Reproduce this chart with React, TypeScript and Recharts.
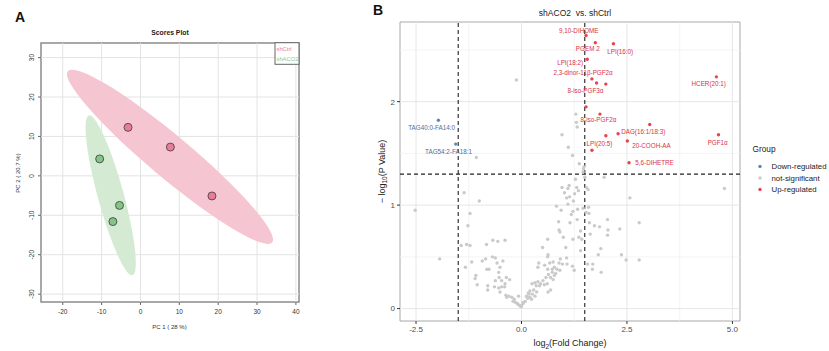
import React from 'react';
import { ScatterChart, Scatter, XAxis, YAxis, ReferenceLine, ReferenceArea } from 'recharts';

const FONT = '"Liberation Sans", Arial, Helvetica, sans-serif';

// ---------- Panel A : PCA scores ----------
const pcaXTicks = [-20, -10, 0, 10, 20, 30, 40];
const pcaYTicks = [-30, -20, -10, 0, 10, 20, 30];
const shCtrlPC1 = [-3.2, 7.7, 18.4];
const shCtrlPC2 = [12.3, 7.3, -5.1];
const shACO2PC1 = [-10.5, -5.4, -7.1];
const shACO2PC2 = [4.3, -7.5, -11.6];
// confidence ellipses: [centre, end of major semi-axis, end of minor semi-axis]
const shCtrlEllipse = [[7.6, 4.83], [33.9, -16.9], [11.07, 8.91]];
const shACO2Ellipse = [[-7.67, -4.93], [-2.06, -25.2], [-4.45, -4.06]];

// ---------- Panel B : volcano ----------
const volXTicks = [-2.5, 0, 2.5, 5];
const volXMinor = [-1.25, 1.25, 3.75];
const volYTicks = [0, 1, 2];
const volYMinor = [0.5, 1.5, 2.5];
const fcCut = 1.5;
const pCut = 1.3;

const upNames = ['9,10-DIHOME', 'PGEM 2', 'LPI(16:0)', 'LPI(18:2)', '2,3-dinor-11β-PGF2α', '8-iso-PGF3α', '', '', '8-iso-PGF2α', 'DAG(16:1/18:3)', '', '', 'LPI(20:5)', '20-COOH-AA', '5,6-DIHETRE', 'HCER(20:1)', 'PGF1α'];
const upFC = [1.53, 1.75, 2.18, 1.56, 1.67, 1.78, 2.0, 1.53, 1.86, 3.04, 2.29, 2.0, 1.67, 2.51, 2.55, 4.62, 4.67];
const upP = [2.64, 2.57, 2.56, 2.41, 2.22, 2.18, 2.17, 1.95, 1.88, 1.78, 1.69, 1.67, 1.53, 1.62, 1.41, 2.24, 1.68];

const downNames = ['TAG40:0-FA14:0', 'TAG54:2-FA18:1'];
const downFC = [-1.97, -1.56];
const downP = [1.82, 1.59];

const notSig: [number, number][] = [
  [-1.07, 1.46], [-0.12, 2.21], [1.29, 1.88], [1.30, 1.80], [1.32, 1.755], [0.96, 1.68], [1.11, 1.56], [1.21, 1.48], [1.37, 1.40], [1.48, 1.37], [1.47, 1.35], [1.46, 1.32],
  [-2.52, 0.95], [-1.36, 1.12], [-1.0, 1.04], [-1.22, 0.92], [-1.27, 0.80], [-1.43, 0.61], [-1.30, 0.62], [-1.22, 0.61], [-0.83, 0.62], [-0.68, 0.66], [-0.56, 0.65], [-0.39, 0.66],
  [-1.94, 0.48], [-1.18, 0.45], [-1.33, 0.40], [-0.93, 0.46], [-0.85, 0.48], [-0.69, 0.50], [-0.77, 0.38], [-0.82, 0.38], [-0.58, 0.44], [-0.51, 0.40], [-0.54, 0.35], [-1.08, 0.32],
  [-1.10, 0.29], [-1.05, 0.23], [-0.80, 0.22], [-0.80, 0.18], [-0.64, 0.21], [-0.62, 0.27], [-0.53, 0.30], [-0.47, 0.27], [-0.36, 0.30], [-0.28, 0.28], [-0.54, 0.20], [-0.47, 0.21],
  [-0.40, 0.21], [-0.39, 0.24], [-0.51, 0.16], [-0.37, 0.13], [-0.35, 0.11], [-0.23, 0.11], [-0.17, 0.09], [-0.07, 0.12], [-0.14, 0.06], [-0.10, 0.05], [-0.04, 0.03], [0.0, 0.02],
  [0.04, 0.05], [0.14, 0.11], [0.18, 0.14], [-0.62, 0.49], [-0.44, 0.46], [-0.2, 0.07], [-0.08, 0.04], [-0.3, 0.12],
  [1.96, 1.27], [1.50, 1.27], [1.28, 1.25], [0.96, 1.17], [1.13, 1.19], [1.10, 1.16], [1.31, 1.17], [1.54, 1.17], [1.35, 1.14], [1.58, 1.15], [1.26, 1.11], [1.02, 1.12],
  [1.07, 1.07], [1.14, 1.08], [2.57, 1.07], [1.23, 1.04], [0.83, 0.99], [1.10, 1.01], [1.33, 0.96], [1.59, 0.98], [0.94, 0.95], [1.22, 0.94], [1.53, 0.93], [1.60, 0.92],
  [1.46, 0.97], [1.18, 0.91], [1.32, 0.86], [0.88, 0.84], [1.15, 0.83], [1.61, 0.83], [1.73, 0.80], [1.85, 0.79], [2.04, 0.86], [2.05, 0.76], [2.33, 0.77], [2.79, 0.83],
  [0.89, 0.76], [0.91, 0.74], [1.40, 0.75], [1.63, 0.72], [2.04, 0.71], [0.99, 0.69], [0.62, 0.67], [1.22, 0.67], [1.36, 0.69], [1.43, 0.67], [0.50, 0.59], [1.05, 0.59],
  [1.40, 0.56], [1.88, 0.58], [0.63, 0.52], [0.62, 0.50], [1.82, 0.52], [2.37, 0.52], [2.79, 0.47], [2.48, 0.47], [0.92, 0.48], [1.07, 0.49], [0.89, 0.44], [0.97, 0.43],
  [0.41, 0.44], [0.39, 0.40], [0.55, 0.42], [0.67, 0.44], [0.75, 0.45], [1.08, 0.43], [1.21, 0.41], [1.25, 0.37], [1.57, 0.43], [1.69, 0.43], [1.68, 0.38], [1.89, 0.35],
  [0.62, 0.38], [0.73, 0.38], [0.78, 0.40], [0.84, 0.38], [0.91, 0.37], [0.73, 0.35], [0.81, 0.34], [0.64, 0.33], [0.78, 0.32], [0.69, 0.30], [0.75, 0.28], [0.58, 0.30],
  [0.51, 0.27], [0.39, 0.26], [0.32, 0.25], [0.25, 0.24], [0.45, 0.24], [0.54, 0.23], [0.61, 0.24], [0.35, 0.22], [0.43, 0.22], [0.69, 0.18], [0.63, 0.16], [0.29, 0.18],
  [0.20, 0.17], [0.36, 0.16], [0.16, 0.15], [0.26, 0.14], [0.32, 0.12], [0.20, 0.11], [0.12, 0.12], [0.24, 0.09], [0.15, 0.10], [0.09, 0.07], [0.04, 0.06], [0.0, 0.03],
  [-0.02, 0.02], [4.81, 1.16],
];

// repelled label anchors (data units) for named metabolites
const labelText = ['9,10-DIHOME', 'PGEM 2', 'LPI(16:0)', 'LPI(18:2)', '2,3-dinor-11β-PGF2α', '8-iso-PGF3α', '8-iso-PGF2α', 'DAG(16:1/18:3)', 'LPI(20:5)', '20-COOH-AA', '5,6-DIHETRE', 'HCER(20:1)', 'PGF1α', 'TAG40:0-FA14:0', 'TAG54:2-FA18:1'];
const labelFC = [1.358, 1.571, 2.341, 1.152, 1.46, 1.517, 1.825, 2.886, 1.848, 3.081, 3.154, 4.438, 4.652, -2.13, -1.73];
const labelP = [2.689, 2.51, 2.488, 2.381, 2.281, 2.106, 1.826, 1.71, 1.593, 1.574, 1.413, 2.174, 1.607, 1.755, 1.523];
const labelGroup = ['up', 'up', 'up', 'up', 'up', 'up', 'up', 'up', 'up', 'up', 'up', 'up', 'up', 'down', 'down'];

const groupNames = ['Down-regulated', 'not-significant', 'Up-regulated'];

const C = {
  pink: '#ec7a98', pinkEll: '#f6c5d2', pinkTxt: '#e8799b',
  green: '#84c585', greenEll: '#d4ead2', greenTxt: '#88c98b',
  up: '#e8444c', upTxt: '#d8333f', down: '#6584b8', downTxt: '#4f6d9e', ns: '#cacaca',
};

const ellipseLine = (fill: string) => (props: any) => {
  const pts = props.points || [];
  if (pts.length < 3) return <g />;
  const [c, a, b] = pts;
  const m = `matrix(${a.x - c.x} ${a.y - c.y} ${b.x - c.x} ${b.y - c.y} ${c.x} ${c.y})`;
  return <circle cx={0} cy={0} r={1} transform={m} fill={fill} stroke="none" />;
};

const RotTick = (props: any) => {
  const { x, y, payload } = props;
  const bx = x - 2;
  return (
    <text x={bx} y={y} transform={`rotate(-90 ${bx} ${y})`} textAnchor="middle" fontSize={6.5} fill="#333" fontFamily={FONT}>
      {payload.value}
    </text>
  );
};

function PanelA() {
  const ctrl = shCtrlPC1.map((x, i) => ({ x, y: shCtrlPC2[i] }));
  const aco2 = shACO2PC1.map((x, i) => ({ x, y: shACO2PC2[i] }));
  const ctrlEll = shCtrlEllipse.map(([x, y]) => ({ x, y }));
  const aco2Ell = shACO2Ellipse.map(([x, y]) => ({ x, y }));
  const dot = (fill: string) => (p: any) => <circle cx={p.cx} cy={p.cy} r={4} fill={fill} stroke="#4a4a4a" strokeWidth={0.9} />;
  return (
    <ScatterChart width={310} height={351} margin={{ top: 43, right: 11, bottom: 0, left: 0 }}>
      {pcaXTicks.map((t) => <ReferenceLine key={'gx' + t} x={t} stroke="#e3e3e3" strokeWidth={1} />)}
      {pcaYTicks.map((t) => <ReferenceLine key={'gy' + t} y={t} stroke="#e3e3e3" strokeWidth={1} />)}
      <XAxis type="number" dataKey="x" domain={[-25.6, 40.8]} ticks={pcaXTicks} allowDataOverflow interval={0}
        height={49} axisLine={false} tickLine={{ stroke: '#666' }} tickSize={3} tickMargin={4}
        tick={{ fontSize: 6.5, fill: '#333', fontFamily: FONT }} />
      <YAxis type="number" dataKey="y" domain={[-32, 33.7]} ticks={pcaYTicks} allowDataOverflow interval={0}
        width={41} axisLine={false} tickLine={{ stroke: '#666' }} tickSize={3} tickMargin={2}
        tick={(p: any) => <RotTick {...p} />} />
      <Scatter data={ctrlEll} line={ellipseLine(C.pinkEll)} shape={() => <g />} isAnimationActive={false} legendType="none" />
      <Scatter data={aco2Ell} line={ellipseLine(C.greenEll)} shape={() => <g />} isAnimationActive={false} legendType="none" />
      <Scatter name="shCtrl" data={ctrl} shape={dot(C.pink)} isAnimationActive={false} />
      <Scatter name="shACO2" data={aco2} shape={dot(C.green)} isAnimationActive={false} />
      <ReferenceArea x1={-25.6} x2={40.8} y1={-32} y2={33.7} fill="none" stroke="#8c8c8c" strokeWidth={1.5} ifOverflow="visible" />
    </ScatterChart>
  );
}

function PanelB() {
  const ns = notSig.map(([x, y]) => ({ x, y }));
  const up = upFC.map((x, i) => ({ x, y: upP[i], name: upNames[i] }));
  const down = downFC.map((x, i) => ({ x, y: downP[i], name: downNames[i] }));
  const labels = labelText.map((t, i) => ({ x: labelFC[i], y: labelP[i], name: t, g: labelGroup[i] }));
  const dot = (fill: string) => (p: any) => <circle cx={p.cx} cy={p.cy} r={1.7} fill={fill} />;
  const labelShape = (p: any) => (
    <text x={p.cx} y={p.cy} textAnchor="middle" dominantBaseline="central" fontSize={6.3} fontFamily={FONT}
      fill={p.payload.g === 'up' ? C.upTxt : C.downTxt}>{p.payload.name}</text>
  );
  return (
    <ScatterChart width={519} height={351} margin={{ top: 22, right: 89, bottom: 0, left: 0 }}>
      {volXMinor.map((t) => <ReferenceLine key={'mx' + t} x={t} stroke="#f1f1f1" strokeWidth={0.8} />)}
      {volYMinor.map((t) => <ReferenceLine key={'my' + t} y={t} stroke="#f1f1f1" strokeWidth={0.8} />)}
      {volXTicks.map((t) => <ReferenceLine key={'gx' + t} x={t} stroke="#e6e6e6" strokeWidth={1} />)}
      {volYTicks.map((t) => <ReferenceLine key={'gy' + t} y={t} stroke="#e6e6e6" strokeWidth={1} />)}
      <XAxis type="number" dataKey="x" domain={[-2.88, 5.18]} ticks={volXTicks} allowDataOverflow interval={0}
        height={30} axisLine={false} tickLine={{ stroke: '#333' }} tickSize={3} tickMargin={2}
        tickFormatter={(v: number) => v.toFixed(1)} tick={{ fontSize: 8, fill: '#4d4d4d', fontFamily: FONT }} />
      <YAxis type="number" dataKey="y" domain={[-0.12, 2.77]} ticks={volYTicks} allowDataOverflow interval={0}
        width={90} axisLine={false} tickLine={{ stroke: '#333' }} tickSize={3} tickMargin={2}
        tick={{ fontSize: 8, fill: '#4d4d4d', fontFamily: FONT }} />
      <Scatter name="not-significant" data={ns} shape={dot(C.ns)} isAnimationActive={false} />
      <Scatter name="Down-regulated" data={down} shape={dot(C.down)} isAnimationActive={false} />
      <Scatter name="Up-regulated" data={up} shape={dot(C.up)} isAnimationActive={false} />
      <ReferenceLine x={-fcCut} stroke="#222" strokeWidth={1.1} strokeDasharray="4 3" />
      <ReferenceLine x={fcCut} stroke="#222" strokeWidth={1.1} strokeDasharray="4 3" />
      <ReferenceLine y={pCut} stroke="#222" strokeWidth={1.1} strokeDasharray="4 3" />
      <Scatter data={labels} shape={labelShape} isAnimationActive={false} legendType="none" />
      <ReferenceArea x1={-2.88} x2={5.18} y1={-0.12} y2={2.77} fill="none" stroke="#a8a8a8" strokeWidth={1} ifOverflow="visible" />
    </ScatterChart>
  );
}

export default function App() {
  const legendColors = [C.down, C.ns, C.up];
  return (
    <div style={{ position: 'absolute', left: 0, top: 0, width: 829, height: 351, background: '#fff', fontFamily: FONT }}>
      <div style={{ position: 'absolute', left: 0, top: 0 }}><PanelA /></div>
      <div style={{ position: 'absolute', left: 310, top: 0 }}><PanelB /></div>
      <svg width={829} height={351} style={{ position: 'absolute', left: 0, top: 0, pointerEvents: 'none' }} fontFamily={FONT}>
        <text x={15} y={22} fontSize={14} fontWeight="bold" fill="#111">A</text>
        <text x={373} y={15} fontSize={14} fontWeight="bold" fill="#111">B</text>
        <text x={170} y={35} fontSize={6.8} fontWeight="bold" textAnchor="middle" fill="#222">Scores Plot</text>
        <text x={169.5} y={329} fontSize={6} textAnchor="middle" fill="#333">PC 1 ( 28 %)</text>
        <text x={19.5} y={173} fontSize={6} textAnchor="middle" fill="#333" transform="rotate(-90 19.5 173)">PC 2 ( 20.7 %)</text>
        <rect x={275} y={42.7} width={24} height={21.6} fill="#fff" stroke="#666" strokeWidth={1} />
        <text x={276.5} y={51} fontSize={5.8} fill={C.pinkTxt}>shCtrl</text>
        <text x={276.5} y={60.5} fontSize={5.8} fill={C.greenTxt}>shACO2</text>

        <text x={575} y={16} fontSize={8.5} textAnchor="middle" fill="#222" style={{ whiteSpace: 'pre' }}>shACO2  vs. shCtrl</text>
        <text x={570} y={346} fontSize={9} textAnchor="middle" fill="#222">
          log<tspan fontSize={6.5} dy={2.5}>2</tspan><tspan dy={-2.5}>(Fold Change)</tspan>
        </text>
        <text x={384.5} y={171.5} fontSize={9} textAnchor="middle" fill="#222" transform="rotate(-90 384.5 171.5)">
          − log<tspan fontSize={6.5} dy={2.5}>10</tspan><tspan dy={-2.5}>(P Value)</tspan>
        </text>
        <text x={752.5} y={152} fontSize={8.3} fill="#222">Group</text>
        {groupNames.map((g, i) => (
          <g key={g}>
            <circle cx={760} cy={166.5 + i * 11.5} r={1.7} fill={legendColors[i]} />
            <text x={771.5} y={169.3 + i * 11.5} fontSize={7.8} fill="#222">{g}</text>
          </g>
        ))}
      </svg>
    </div>
  );
}
